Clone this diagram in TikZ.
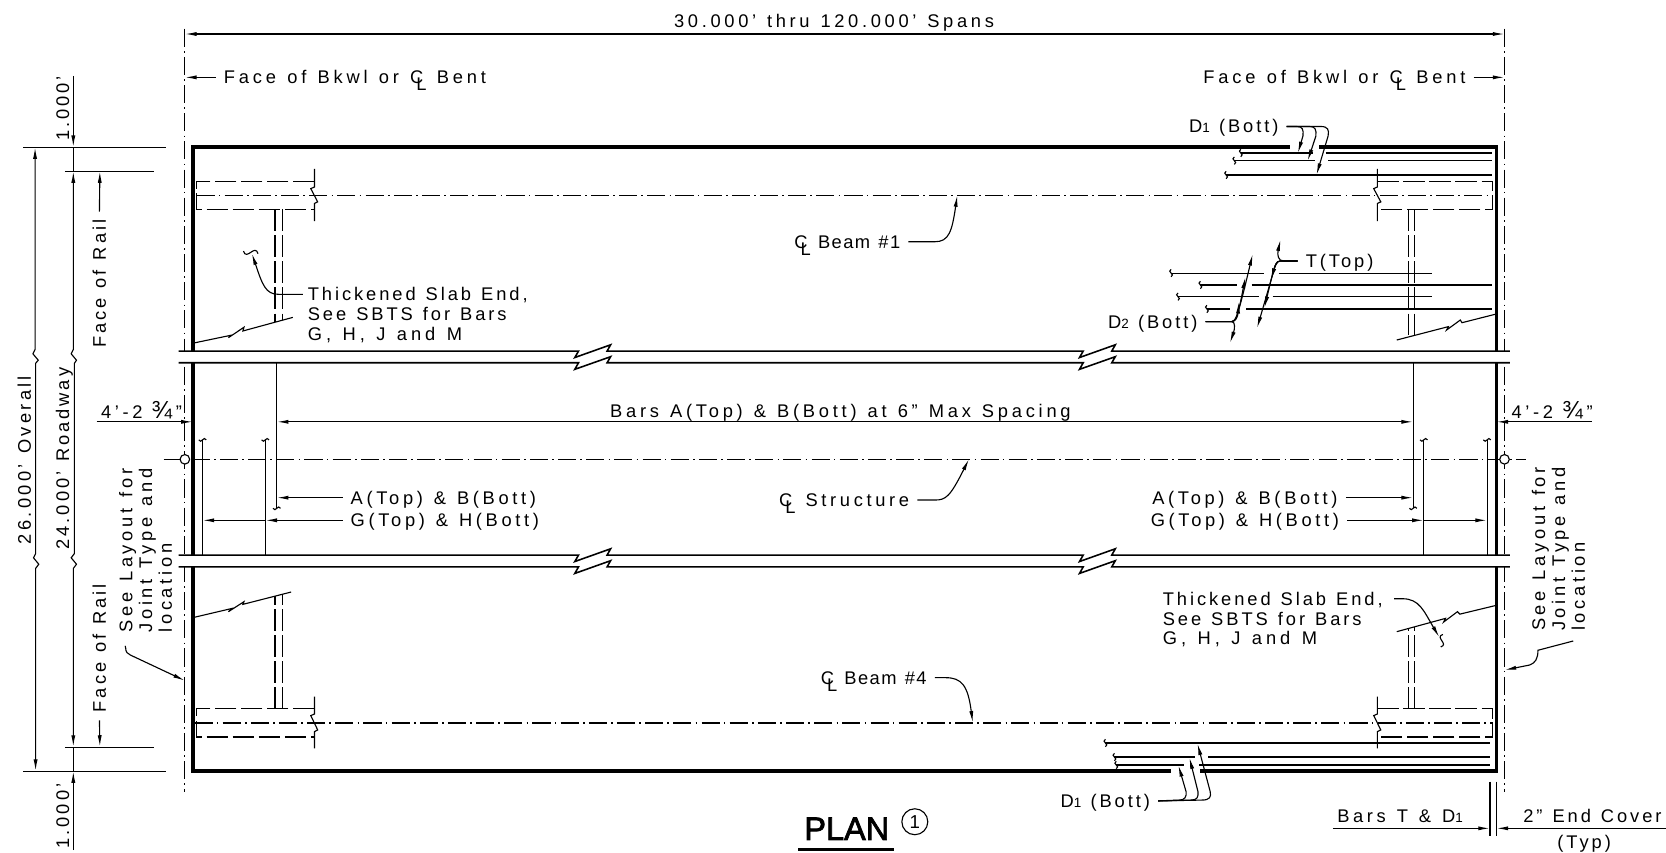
\documentclass[tikz,border=0pt]{standalone}
\usepackage{fontspec}
\usepackage{tikz}
\usetikzlibrary{positioning, arrows.meta}
\setmainfont[LetterSpace=16,WordSpace=1.25]{Liberation Sans}
\newfontfamily\planfont[FakeBold=2.2]{Liberation Sans}
\newcommand{\clmark}{\rlap{\kern.34em\raisebox{-.38em}{L}}C\kern.12em}
\newcommand{\subnum}[1]{{\fontsize{3.6}{4}\selectfont #1}\kern.5em}
\newcommand{\bigfrac}{\kern.5em{\fontsize{6.6}{6.6}\selectfont ¾}\kern.2em}
\tikzset{
  note/.style={inner sep=0pt, text height=3.5pt, text depth=0pt, font=\fontsize{4.9}{5.3}\selectfont},
  notes/.style={inner sep=0pt, align=left, font=\fontsize{4.9}{5.3}\selectfont},
  spaced/.style={font=\fontsize{4.9}{5.3}\selectfont\addfontfeature{LetterSpace=#1}},
  thinline/.style={line width=.3pt},
  bandline/.style={line width=.42pt},
  slabedge/.style={line width=1pt},
  centerline/.style={line width=.3pt, dash pattern=on .17cm off .04cm on .015cm off .04cm},
  hiddenline/.style={line width=.3pt, dash pattern=on .2cm off .045cm},
  dimline/.style={->, line width=.3pt},
  leader/.style={->, line width=.3pt, shorten <=.07cm},
  barend/.pic={\draw[line width=.3pt] (0,-3.5) .. controls (-4.5,-1.2) and (4.5,1.2) .. (0,3.5);},
}
\begin{document}
\begin{tikzpicture}[x=.01cm, y=-.01cm, >={Latex[length=1.1mm,width=.38mm]}]
  \useasboundingbox (0,0) rectangle (1568,802);

  % Bearing lines and slab edge
  \draw[centerline] (174,27) -- (174,745);
  \draw[centerline] (1416,27) -- (1416,745);
  \draw[slabedge] (1213.7,138.5) -- (181.5,138.5) -- (181.5,725.7) -- (1101.7,725.7);
  \draw[slabedge] (1241.6,138.5) -- (1408.4,138.5) -- (1408.4,725.7) -- (1129,725.7);

  % Beams
  \draw[centerline] (185,183.8) -- (1405,183.8);
  \draw[centerline] (183,680.5) -- (1405,680.5);
  \draw[centerline] (154,432.3) -- (1436,432.3);
  \draw[hiddenline] (296,170.4) -- (185,170.4) -- (185,197) -- (296,197);
  \draw[hiddenline] (296,667) -- (185,667) -- (185,693.6) -- (296,693.6);
  \draw[hiddenline] (1296.3,170.4) -- (1405,170.4) -- (1405,197) -- (1296.3,197);
  \draw[hiddenline] (1296.3,667) -- (1405,667) -- (1405,693.6) -- (1296.3,693.6);
  \draw[hiddenline] (258.8,197) -- (258.8,303);
  \draw[hiddenline] (265.5,197) -- (265.5,301);
  \draw[hiddenline] (258.8,667) -- (258.8,561);
  \draw[hiddenline] (265.5,667) -- (265.5,559);
  \draw[hiddenline] (1325.8,197) -- (1325.8,319);
  \draw[hiddenline] (1331.6,197) -- (1331.6,317);
  \draw[hiddenline] (1325.8,667) -- (1325.8,591);
  \draw[hiddenline] (1331.6,667) -- (1331.6,590);

  % Beam cuts
  \draw[thinline] (296,159) -- (296,176) -- (292.5,177.5) -- (299,190) -- (296,191.5) -- (296,208);
  \draw[thinline] (296,655.7) -- (296,672) -- (292.5,673.5) -- (299,687) -- (296,688.6) -- (296,704.3);
  \draw[thinline] (1296.3,159) -- (1296.3,176) -- (1292.9,177.5) -- (1299.6,190) -- (1296.3,191.5) -- (1296.3,208);
  \draw[thinline] (1296.3,655.7) -- (1296.3,672) -- (1292.9,673.5) -- (1299.6,687) -- (1296.3,688.6) -- (1296.3,704.3);

  % Thickened end limits
  \draw[thinline] (181.5,323) -- (218.5,315.3) -- (215,317.8) -- (229.6,308) -- (228.6,311.5) -- (275.6,298.7);
  \draw[thinline] (181.5,581.3) -- (218.5,572.6) -- (215,575.7) -- (229.6,566.3) -- (228.6,568.8) -- (274,557.2);
  \draw[thinline] (1408.4,295.5) -- (1376,303.7) -- (1374.4,301.2) -- (1361.5,310.6) -- (1363.2,307.4) -- (1314.6,320);
  \draw[thinline] (1408.4,569.7) -- (1374,578) -- (1371.7,575.7) -- (1358.8,585.4) -- (1360.5,582) -- (1314.6,594.5);

  % Bars D1
  \draw[thinline] (1167.8,144) -- (1235.8,144) (1247.7,144) -- (1404,144);
  \draw[thinline] (1161.7,151.2) -- (1237.5,151.2) (1250,151.2) -- (1404,151.2);
  \draw[thinline] (1154,164.7) -- (1404,164.7);
  \draw[thinline] (1040.4,699.3) -- (1402.3,699.3);
  \draw[thinline] (1048.9,712.5) -- (1124.3,712.5) (1137.2,712.5) -- (1402.3,712.5);
  \draw[thinline] (1050.6,720) -- (1114,720) (1128.7,720) -- (1402.3,720);
  \pic at (1167.8,144) {barend};
  \pic at (1161.7,151.2) {barend};
  \pic at (1154,164.7) {barend};
  \pic at (1040.4,699.3) {barend};
  \pic at (1048.9,712.5) {barend};
  \pic at (1050.6,720) {barend};

  % Bars T and D2
  \draw[thinline] (1102.2,257) -- (1190,257) (1203.5,257) -- (1348,257);
  \draw[thinline] (1129.8,268.2) -- (1164.4,268.2) (1178,268.2) -- (1404,268.2);
  \draw[thinline] (1108.7,279.2) -- (1184.8,279.2) (1197.7,279.2) -- (1348,279.2);
  \draw[thinline] (1135.9,290.8) -- (1157.6,290.8) (1172.9,290.8) -- (1404,290.8);
  \pic at (1102.2,257) {barend};
  \pic at (1129.8,268.2) {barend};
  \pic at (1108.7,279.2) {barend};
  \pic at (1135.9,290.8) {barend};

  % Bars A, B, G and H
  \draw[thinline] (190.6,414) -- (190.6,522.4);
  \draw[thinline] (249.7,414) -- (249.7,522.4);
  \draw[thinline] (260.5,341.5) -- (260.5,478.4);
  \draw[thinline] (1340,414) -- (1340,522.4);
  \draw[thinline] (1399.6,414) -- (1399.6,522.4);
  \draw[thinline] (1330,341.5) -- (1330,478.4);
  \pic[rotate=90] at (190.6,414) {barend};
  \pic[rotate=90] at (249.7,414) {barend};
  \pic[rotate=90] at (260.5,478.4) {barend};
  \pic[rotate=90] at (1340,414) {barend};
  \pic[rotate=90] at (1399.6,414) {barend};
  \pic[rotate=90] at (1330,478.4) {barend};

  % Breaks across the deck
  \fill[white] (160,330.4) rectangle (1430,341.4);
  \fill[white] (160,522.4) rectangle (1430,533.5);
  \draw[bandline] (168,330.4) -- (544.5,330.4) -- (541,336.5) -- (574.7,324.5) -- (571.4,330.4) -- (1019.5,330.4) -- (1016,336.5) -- (1049.7,324.5) -- (1046.4,330.4) -- (1421,330.4);
  \draw[bandline] (168,341.4) -- (544.5,341.4) -- (541,347.6) -- (574.7,335.7) -- (571.4,341.4) -- (1019.5,341.4) -- (1016,347.6) -- (1049.7,335.7) -- (1046.4,341.4) -- (1421,341.4);
  \draw[bandline] (168,522.4) -- (544.5,522.4) -- (541,528.5) -- (574.7,516.5) -- (571.4,522.4) -- (1019.5,522.4) -- (1016,528.5) -- (1049.7,516.5) -- (1046.4,522.4) -- (1421,522.4);
  \draw[bandline] (168,533.5) -- (544.5,533.5) -- (541,539.7) -- (574.7,527.7) -- (571.4,533.5) -- (1019.5,533.5) -- (1016,539.7) -- (1049.7,527.7) -- (1046.4,533.5) -- (1421,533.5);

  % Nodes
  \node[note, spaced=20] (spanText) at (785,20) {30.000' thru 120.000' Spans};
  \node[note, spaced=21, anchor=west] (faceL) at (210,72.8) {Face of Bkwl or \clmark{} Bent};
  \node[note, spaced=21, anchor=east] (faceR) at (1380,72.8) {Face of Bkwl or \clmark{} Bent};
  \node[note, anchor=east] (dTopNote) at (1204,119) {D\subnum{1}(Bott)};
  \node[note, spaced=8, anchor=west] (beamOne) at (747,227.5) {\clmark{} Beam \#1};
  \node[note, anchor=west] (tTop) at (1228.3,245.6) {T(Top)};
  \node[note, anchor=east] (dTwoNote) at (1127.7,302.7) {D\subnum{2}(Bott)};
  \node[notes, anchor=north west] (slabL) at (289,270) {Thickened Slab End,\\See SBTS for Bars\\{\addfontfeature{LetterSpace=22}G, H, J and M}};
  \node[notes, anchor=north west] (slabR) at (1093.7,556.5) {Thickened Slab End,\\See SBTS for Bars\\{\addfontfeature{LetterSpace=22}G, H, J and M}};
  \node[note, spaced=20.5] (spacing) at (791,386.5) {Bars A(Top) \& B(Bott) at 6" Max Spacing};
  \node[note, spaced=20, anchor=east] (offsetL) at (172,387.5) {4'-2\bigfrac"};
  \node[note, spaced=20, anchor=west] (offsetR) at (1422,387.5) {4'-2\bigfrac"};
  \node[note, spaced=20, anchor=west] (abL) at (329.4,468.4) {A(Top) \& B(Bott)};
  \node[note, spaced=20, anchor=west] (ghL) at (329.4,489.7) {G(Top) \& H(Bott)};
  \node[note, spaced=20, anchor=east] (abR) at (1259.6,468.4) {A(Top) \& B(Bott)};
  \node[note, spaced=20, anchor=east] (ghR) at (1261,489.7) {G(Top) \& H(Bott)};
  \node[note, spaced=20, anchor=west] (structure) at (732.7,470.6) {\clmark{} Structure};
  \node[note, spaced=8, anchor=west] (beamFour) at (771.8,637.8) {\clmark{} Beam \#4};
  \node[note, anchor=east] (dBotNote) at (1083,754) {D\subnum{1}(Bott)};
  \node[note, rotate=90] (topCant) at (59,102) {1.000'};
  \node[note, rotate=90] (botCant) at (59,768) {1.000'};
  \node[note, spaced=18, rotate=90] (overall) at (23,433) {26.000' Overall};
  \node[note, rotate=90] (roadway) at (59,431.5) {24.000' Roadway};
  \node[note, rotate=90, anchor=west] (railTop) at (93.5,328) {Face of Rail};
  \node[note, rotate=90, anchor=west] (railBot) at (93.5,671) {Face of Rail};
  \node[notes, spaced=20, rotate=90, anchor=west] (layoutL) at (137,596) {See Layout for\\Joint Type and\\location};
  \node[notes, spaced=20, rotate=90, anchor=west] (layoutR) at (1466.8,594.5) {See Layout for\\Joint Type and\\location};
  \node[note, spaced=20, anchor=west] (coverBars) at (1257.9,768) {Bars T \& D\subnum{1}};
  \node[note, anchor=west] (coverEnd) at (1433,768) {2" End Cover};
  \node[note] (coverTyp) at (1491,792) {(Typ)};
  \node[inner sep=0pt, font=\planfont\fontsize{8.7}{10}\selectfont] (planTitle) at (797,780) {PLAN};
  \node[circle, draw, line width=.3pt, minimum size=.244cm, inner sep=0pt, font=\fontsize{5}{6}\selectfont] (planMark) at (861,773.4) {1};
  \node[circle, draw, fill=white, line width=.3pt, minimum size=.09cm, inner sep=0pt] (holdL) at (174,432.3) {};
  \node[circle, draw, fill=white, line width=.3pt, minimum size=.09cm, inner sep=0pt] (holdR) at (1416,432.3) {};

  % Dimension ends
  \coordinate (spanA) at (174,32);
  \coordinate (spanB) at (1416,32);
  \coordinate (barsA) at (260.5,397);
  \coordinate (barsB) at (1330,397);
  \coordinate (slabTipL) at (237,238.4);
  \coordinate (slabTipR) at (1354.7,599.8);
  \coordinate (abTipL) at (260.5,468.4);
  \coordinate (abTipR) at (1330,468.4);
  \coordinate (ghTipLa) at (249.7,489.7);
  \coordinate (ghTipLb) at (190.6,489.7);
  \coordinate (ghTipRa) at (1340,489.7);
  \coordinate (ghTipRb) at (1399.6,489.7);

  % Arrows
  \draw[dimline, <->] (spanA) -- (spanB);
  \draw[leader] (faceL.west) -- (174,72.8);
  \draw[leader] (faceR.east) -- (1416,72.8);
  \draw[dimline, <->] (barsA) -- (barsB);
  \draw[dimline] (91,397) -- (181.5,397);
  \draw[dimline] (1498,397) -- (1408.4,397);
  \draw[leader] (abL.west) -- (abTipL);
  \draw[leader] (ghL.west) -- (ghTipLa);
  \draw[dimline] (ghTipLa) -- (ghTipLb);
  \draw[leader] (abR.east) -- (abTipR);
  \draw[leader] (ghR.east) -- (ghTipRa);
  \draw[dimline] (ghTipRa) -- (ghTipRb);
  \draw[leader] (beamOne.east) -- (880,227.5) .. controls (893,227.5) and (896,218) .. (901,183.6);
  \draw[leader] (structure.east) -- (880,470.6) .. controls (890,470.6) and (894,468) .. (912,432);
  \draw[leader] (beamFour.east) -- (890,637.8) .. controls (905,637.8) and (911,645) .. (915.5,680.2);

  % Leaders for slab ends
  \draw[leader] ([shift={(3,7)}]slabL.north west) -- (262,277) .. controls (250,277) and (247,268) .. (slabTipL);
  \draw[leader] ([shift={(3,7)}]slabR.north east) -- (1320,563.5) .. controls (1336,563.5) and (1340,575) .. (slabTipR);
  \pic[rotate=80, scale=2] at (236,237.5) {barend};
  \pic[rotate=-10, scale=1.7] at (1357,603) {barend};
  \draw[leader] ([shift={(5,5)}]layoutL.north west) -- (118.3,610) .. controls (118.3,614) and (120,615) .. (122.7,616.5) -- (174,640.6);
  \draw[leader] ([shift={(-5,7)}]layoutR.south west) -- (1447.5,612) .. controls (1447.5,620) and (1445,624) .. (1439.6,625.9) -- (1416,630.6);

  % Leaders for D1
  \draw[leader] (dTopNote.east) -- (1220.5,119) .. controls (1226,119) and (1227,122) .. (1226.3,128) -- (1221.5,144.3);
  \draw[leader] (dTopNote.east) -- (1232.4,119) .. controls (1238,119) and (1239,122) .. (1238.5,128) -- (1230.7,151.5);
  \draw[leader] (dTopNote.east) -- (1242.6,119) .. controls (1250,119) and (1251,122) .. (1250,128) -- (1239,164.7);
  \draw[leader] (dBotNote.east) -- (1110,753) .. controls (1115,753) and (1117,750) .. (1116.3,745) -- (1109,720);
  \draw[leader] (dBotNote.east) -- (1121,753) .. controls (1127,753) and (1128,750) .. (1127.5,745) -- (1119.4,712.8);
  \draw[leader] (dBotNote.east) -- (1131,753) .. controls (1139,753) and (1140,750) .. (1139,745) -- (1127,699.7);

  % Leaders for T and D2
  \draw[leader] (tTop.west) -- (1208,245.6) .. controls (1203,245.6) and (1202,240) .. (1205.2,225.3);
  \draw[leader] (tTop.west) -- (1205,245.6) .. controls (1201,245.6) and (1200,250) .. (1196.3,263.5);
  \draw[leader] (tTop.west) -- (1205,245.6) .. controls (1201,245.6) and (1200,250) .. (1196.3,263.5) -- (1190,290);
  \draw[leader] (tTop.west) -- (1205,245.6) .. controls (1201,245.6) and (1200,250) .. (1196.3,263.5) -- (1183.1,309);
  \draw[leader] (dTwoNote.east) -- (1159.3,302.7) .. controls (1163,302.7) and (1162,310) .. (1157.6,323);
  \draw[leader] (dTwoNote.east) -- (1159.3,302.7) .. controls (1163,302.7) and (1165,298) .. (1166,284);
  \draw[leader] (dTwoNote.east) -- (1159.3,302.7) .. controls (1163,302.7) and (1165,298) .. (1172.2,260.4);
  \draw[leader] (dTwoNote.east) -- (1159.3,302.7) .. controls (1163,302.7) and (1165,298) .. (1179,239);

  % Dimensions at left
  \draw[thinline] (22,138.5) -- (156,138.5);
  \draw[thinline] (61,161) -- (144.5,161);
  \draw[thinline] (61,703.3) -- (144.5,703.3);
  \draw[thinline] (22,725.7) -- (156,725.7);
  \draw[dimline] (69,71.5) -- (69,138.5);
  \draw[thinline] (69,138.5) -- (69,161);
  \draw[thinline] (69,703) -- (69,725.7);
  \draw[dimline] (69,800) -- (69,725.7);
  \draw[dimline, <->] (33,138.5) -- (33,329) -- (31,333) -- (36,339) -- (33.5,342) -- (33.5,521) -- (31.5,525) -- (36.5,531) -- (33.5,535) -- (33.5,725.7);
  \draw[dimline, <->] (69,161) -- (69,329) -- (67,333) -- (72,339) -- (70,342) -- (70,521) -- (67,525) -- (72,531) -- (69,535) -- (69,703);
  \draw[leader] (railTop.east) -- (94,161);
  \draw[leader] (railBot.west) -- (94,703);

  % End cover
  \draw[thinline] (1402.3,735.7) -- (1402.3,786.5);
  \draw[thinline] (1408.4,735.7) -- (1408.4,786.5);
  \draw[dimline] (1254.5,779.6) -- (1402.3,779.6);
  \draw[dimline] (1568,779.6) -- (1408.4,779.6);

  % Title
  \draw[line width=.75pt] (751.4,799.4) -- (841.4,799.4);
\end{tikzpicture}
\end{document}
